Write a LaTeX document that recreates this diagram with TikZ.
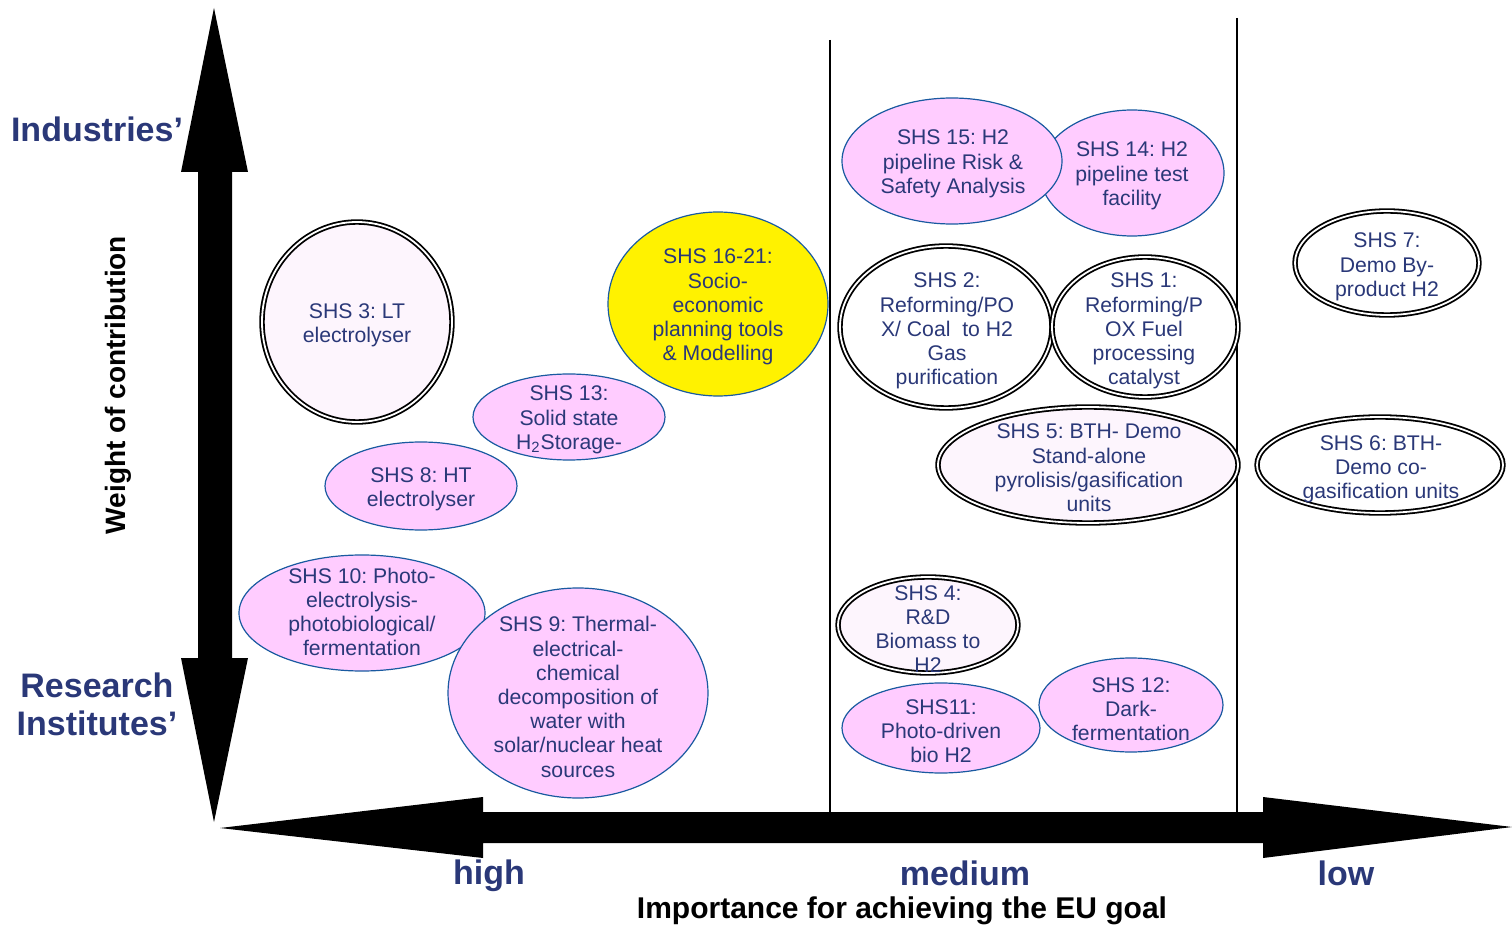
\documentclass[tikz,border=0pt]{standalone}
\usepackage{fontspec}
\setmainfont{Liberation Sans}
\frenchspacing
\usetikzlibrary{shapes.geometric}

\definecolor{shsblue}{RGB}{42,56,120}
\definecolor{shspink}{RGB}{255,204,255}
\definecolor{shsedge}{RGB}{25,90,160}
\definecolor{shsdots}{RGB}{253,245,253}

\tikzset{
  shstext/.style={align=center, text=shsblue, inner sep=0pt, yshift=-1pt, font=\fontsize{10.6}{12.1}\selectfont},
  funded/.style={fill=shspink, draw=shsedge, line width=0.6pt},
  unfunded/.style={draw=black, double=white, line width=0.9pt, double distance=0.9pt},
  axislabel/.style={align=center, text=shsblue, font=\fontsize{17}{19}\selectfont\bfseries},
}

\begin{document}
\begin{tikzpicture}[x=0.5pt, y=-0.5pt]
  \useasboundingbox (0,0) rectangle (1512,925);

  % column dividers
  \coordinate (mid_top) at (830,40);
  \coordinate (mid_bot) at (830,812);
  \coordinate (low_top) at (1237,18);
  \coordinate (low_bot) at (1237,812);
  \draw [line width=0.6pt] (mid_top) -- (mid_bot);
  \draw [line width=0.6pt] (low_top) -- (low_bot);

  % high column
  \draw [unfunded, fill=shsdots] (357,322) ellipse [x radius=47.5pt, y radius=50pt];
  \node [shstext] (shs3) at (357,323) {SHS 3: LT\\electrolyser};

  \draw [shsedge, line width=0.6pt, fill=yellow] (718,304) ellipse [x radius=55pt, y radius=46pt];
  \node [shstext] (shs16) at (718,305) {SHS 16-21:\\Socio-\\economic\\planning tools\\\& Modelling};

  \draw [funded] (569,417) ellipse [x radius=48pt, y radius=21.5pt];
  \node [shstext] (shs13) at (569,418) {SHS 13:\\Solid state\\H\textsubscript{2}Storage-};

  \draw [funded] (421,486) ellipse [x radius=48pt, y radius=22pt];
  \node [shstext] (shs8) at (421,487) {SHS 8: HT\\electrolyser};

  \draw [funded] (362,613) ellipse [x radius=61.5pt, y radius=29pt];
  \node [shstext] (shs10) at (362,610) {SHS 10: Photo-\\electrolysis-\\photobiological/\\fermentation};

  \draw [funded] (578,693) ellipse [x radius=65pt, y radius=52.5pt];
  \node [shstext] (shs9) at (578,695) {SHS 9: Thermal-\\electrical-\\chemical\\decomposition of\\water with\\solar/nuclear heat\\sources};

  % medium column
  \draw [funded] (1132,173) ellipse [x radius=46pt, y radius=31.5pt];
  \node [shstext] (shs14) at (1132,174) {SHS 14: H2\\pipeline test\\facility};

  \draw [funded] (952,161) ellipse [x radius=55pt, y radius=31.5pt];
  \node [shstext] (shs15) at (953,162) {SHS 15: H2\\pipeline Risk \&\\Safety Analysis};

  \draw [unfunded, fill=white] (946,327) ellipse [x radius=53pt, y radius=40.5pt];
  \node [shstext] (shs2) at (947,329) {SHS 2:\\Reforming/PO\\X/ Coal~ to H2\\Gas\\purification};

  \draw [unfunded, fill=white] (1145,327) ellipse [x radius=46.5pt, y radius=35pt];
  \node [shstext] (shs1) at (1144,329) {SHS 1:\\Reforming/P\\OX Fuel\\processing\\catalyst};

  \draw [unfunded, fill=shsdots] (1088,465) ellipse [x radius=75pt, y radius=29pt];
  \node [shstext] (shs5) at (1089,466) {SHS 5: BTH- Demo\\Stand-alone\\pyrolisis/gasification\\units};

  \draw [unfunded, fill=shsdots] (928,625) ellipse [x radius=45pt, y radius=24pt];
  \node [shstext] (shs4) at (928,627) {SHS 4:\\R\&D\\Biomass to\\H2};

  \draw [funded] (941,728) ellipse [x radius=49.5pt, y radius=22.5pt];
  \node [shstext] (shs11) at (941,729) {SHS11:\\Photo-driven\\bio H2};

  \draw [funded] (1131,705) ellipse [x radius=46pt, y radius=23.5pt];
  \node [shstext] (shs12) at (1131,707) {SHS 12:\\Dark-\\fermentation};

  % low column
  \draw [unfunded, fill=white] (1387,263) ellipse [x radius=46pt, y radius=26pt];
  \node [shstext] (shs7) at (1387,265) {SHS 7:\\Demo By-\\product H2};

  \draw [unfunded, fill=white] (1380,465) ellipse [x radius=61.5pt, y radius=24pt];
  \node [shstext] (shs6) at (1381,467) {SHS 6: BTH-\\Demo co-\\gasification units};

  % axes
  \fill (214,8) -- (248,172) -- (232,172) -- (232,658) -- (248,658) -- (214,822)
        -- (181,658) -- (198,658) -- (198,172) -- (181,172) -- cycle;
  \fill (220,828) -- (483,797) -- (483,812) -- (1263,812) -- (1263,797) -- (1512,827)
        -- (1263,858) -- (1263,843) -- (483,843) -- (483,858) -- cycle;

  % axis labels
  \node [axislabel] (industries) at (97,129) {Industries’};
  \node [axislabel] (research) at (97,704) {Research\\Institutes’};
  \node [font=\fontsize{14}{16}\selectfont\bfseries, rotate=90] (weight) at (118,385) {Weight of contribution};
  \node [axislabel] (high) at (489,876) {high};
  \node [axislabel] (medium) at (965,873) {medium};
  \node [axislabel] (low) at (1346,873) {low};
  \node [font=\fontsize{15}{17}\selectfont\bfseries] (importance) at (902,911) {Importance for achieving the EU goal};
\end{tikzpicture}
\end{document}
